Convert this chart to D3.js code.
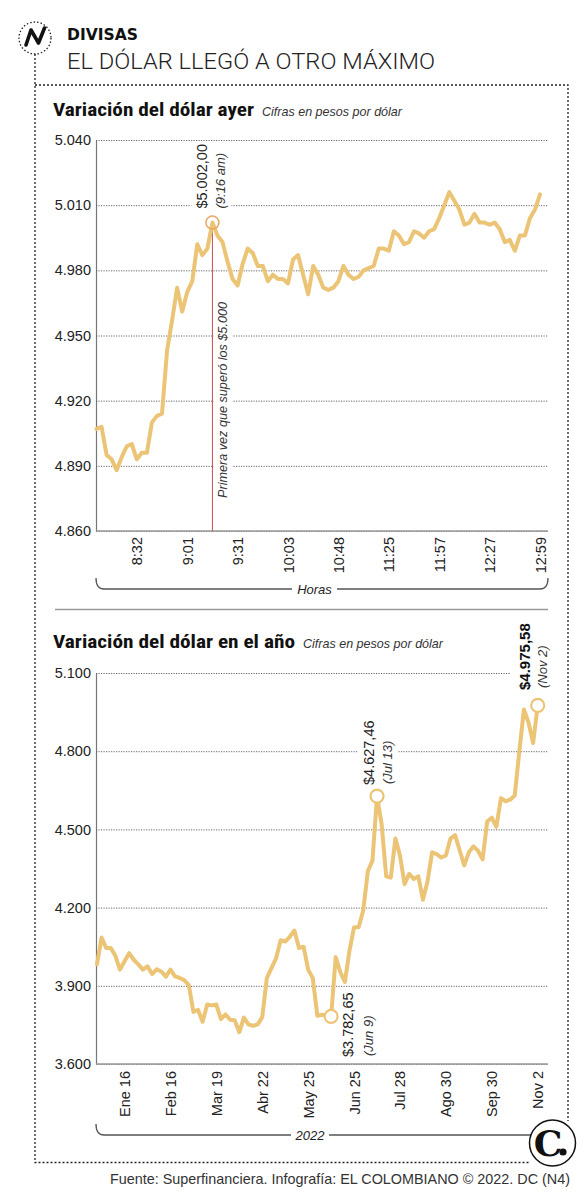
<!DOCTYPE html>
<html><head><meta charset="utf-8">
<script src="https://cdn.jsdelivr.net/npm/d3@7"></script>
<style>
html,body{margin:0;padding:0;background:#fff;}
svg{display:block;font-family:"Liberation Sans",Arial,Helvetica,sans-serif;}
</style></head><body>
<svg id="chart" width="586" height="1200"></svg>
<script>
// ---------- DATA ----------
// Intraday (yesterday) dollar price, pesos per dollar
const hourValues = [
  4907, 4908, 4895, 4893, 4888, 4894, 4899, 4900, 4893, 4896,
  4896, 4910, 4913, 4914, 4943, 4957, 4972, 4961, 4970, 4975,
  4992, 4987, 4990, 5002, 4996, 4993, 4984, 4976, 4973, 4983,
  4990, 4988, 4982, 4982, 4975, 4978, 4976, 4976, 4974, 4985,
  4987, 4978, 4969, 4982, 4978, 4972, 4971, 4972, 4975, 4982,
  4978, 4976, 4977, 4980, 4981, 4982, 4990, 4990, 4989, 4998,
  4996, 4992, 4993, 4998, 4997, 4995, 4998, 4999, 5004, 5010,
  5016, 5012, 5008, 5001, 5002, 5006, 5002, 5002, 5001, 5002,
  4999, 4993, 4994, 4989, 4996, 4996, 5004, 5008, 5015
];
const hourTickIndex  = [8, 18, 28, 38, 48, 58, 68, 78, 88];
const hourTickLabels = ["8:32", "9:01", "9:31", "10:03", "10:48", "11:25", "11:57", "12:27", "12:59"];
const hourYTicks = [4860, 4890, 4920, 4950, 4980, 5010, 5040];
const hourPeakIndex = 23;
const hourPeakValue = 5002;
const hourPeakTime = "(9:16 am)";
const hourNote = "Primera vez que superó los $5.000";

// Year 2022 dollar price, pesos per dollar
const yearValues = [
  3983, 4085, 4045, 4045, 4015, 3962, 3994, 4025, 4000, 3982,
  3962, 3975, 3945, 3963, 3955, 3935, 3962, 3936, 3930, 3922,
  3903, 3800, 3808, 3762, 3828, 3825, 3828, 3772, 3790, 3770,
  3768, 3722, 3778, 3752, 3746, 3752, 3780, 3930, 3968, 4005,
  4075, 4070, 4088, 4112, 4045, 4050, 3962, 3930, 3785, 3789,
  3786, 3782.65, 4010, 3952, 3915, 4035, 4125, 4125, 4190, 4340,
  4380, 4627.46, 4520, 4320, 4315, 4465, 4400, 4290, 4330, 4310,
  4320, 4230, 4300, 4412, 4405, 4392, 4400, 4465, 4478, 4420,
  4362, 4412, 4435, 4418, 4385, 4530, 4545, 4510, 4620, 4608,
  4614, 4630, 4800, 4960, 4910, 4831, 4975.58
];
const yearTickIndex  = [6, 16, 26, 36, 46, 56, 66, 76, 86, 96];
const yearTickLabels = ["Ene 16", "Feb 16", "Mar 19", "Abr 22", "May 25", "Jun 25", "Jul 28", "Ago 30", "Sep 30", "Nov 2"];
const yearYTicks = [3600, 3900, 4200, 4500, 4800, 5100];
const yearMarkerIndex = [51, 61, 96];
const yearMarkerDates = ["(Jun 9)", "(Jul 13)", "(Nov 2)"];

// ---------- SETUP ----------
const svg = d3.select("#chart");
const loc = d3.formatLocale({decimal: ",", thousands: ".", grouping: [3], currency: ["$", ""]});
const fmtTick = loc.format(",");
const fmtMoney = loc.format("$,.2f");

const LINE = "#ebc476";
const CONDB = "'Roboto Condensed','Liberation Sans Narrow','DejaVu Sans Condensed','Liberation Sans',sans-serif";

// ---------- HEADER ----------
const hdr = svg.append("g");
hdr.append("circle").attr("cx", 35).attr("cy", 38).attr("r", 16)
  .attr("fill", "none").attr("stroke", "#222").attr("stroke-width", 1.3).attr("stroke-dasharray", "1.5,2");
hdr.append("path").attr("d", "M26,45 L31,30 L38.5,43 L44.5,28")
  .attr("fill", "none").attr("stroke", "#111").attr("stroke-width", 3.6)
  .attr("stroke-linejoin", "round").attr("stroke-linecap", "round");
hdr.append("text").attr("x", 67).attr("y", 40).text("DIVISAS")
  .attr("font-family", "'DejaVu Sans',sans-serif").attr("font-weight", 700).attr("font-size", 15)
  .attr("textLength", 71).attr("lengthAdjust", "spacingAndGlyphs").attr("fill", "#111");
hdr.append("text").attr("x", 67).attr("y", 69).text("EL DÓLAR LLEGÓ A OTRO MÁXIMO")
  .attr("font-family", "Roboto,'Liberation Sans',sans-serif").attr("font-weight", 300).attr("font-size", 21.5)
  .attr("textLength", 368).attr("lengthAdjust", "spacingAndGlyphs").attr("fill", "#222");

// dotted frame
svg.append("path").attr("d", "M35,54 V1162.5 H530 M35,85 H568 V1121")
  .attr("fill", "none").attr("stroke", "#222").attr("stroke-width", 1.3).attr("stroke-dasharray", "2,2");

// separator
svg.append("line").attr("x1", 55).attr("x2", 548).attr("y1", 609.5).attr("y2", 609.5)
  .attr("stroke", "#9a9a9a").attr("stroke-width", 1.5);

// ---------- HELPERS ----------
function title(y, main, mainLen, sub, subX) {
  svg.append("text").attr("x", 53).attr("y", y).text(main)
    .attr("font-family", CONDB).attr("font-weight", 700).attr("font-size", 19)
    .attr("textLength", mainLen).attr("lengthAdjust", "spacingAndGlyphs").attr("fill", "#111");
  svg.append("text").attr("x", subX).attr("y", y).text(sub)
    .attr("font-style", "italic").attr("font-size", 13.5)
    .attr("textLength", 140).attr("lengthAdjust", "spacingAndGlyphs").attr("fill", "#333");
}

function vtext(g, bx, by, txt, size, opts = {}) {
  const t = g.append("text")
    .attr("transform", `translate(${bx},${by}) rotate(-90)`)
    .attr("text-anchor", opts.anchor || "start")
    .attr("font-size", size).attr("fill", opts.fill || "#222")
    .text(txt);
  if (opts.italic) t.attr("font-style", "italic");
  if (opts.bold) t.attr("font-weight", 700);
  if (opts.len) t.attr("textLength", opts.len).attr("lengthAdjust", "spacingAndGlyphs");
  return t;
}

function backdrop(layer, g, padX, padY) {
  const b = g.node().getBBox();
  layer.append("rect").attr("x", b.x - padX).attr("y", b.y - padY)
    .attr("width", b.width + 2 * padX).attr("height", b.height + 2 * padY).attr("fill", "#fff");
}

function bracket(y, x0, x1, gapA, gapB, label, right) {
  const p = d3.path();
  p.moveTo(x0, y - 11); p.quadraticCurveTo(x0, y, x0 + 8, y); p.lineTo(gapA, y);
  p.moveTo(gapB, y);
  if (right) { p.lineTo(x1 - 8, y); p.quadraticCurveTo(x1, y, x1, y - 11); }
  else p.lineTo(x1, y);
  svg.append("path").attr("d", p.toString()).attr("fill", "none")
    .attr("stroke", "#555").attr("stroke-width", 1.3);
  svg.append("text").attr("x", (gapA + gapB) / 2).attr("y", y + 5).attr("text-anchor", "middle")
    .attr("font-style", "italic").attr("font-size", 13).attr("fill", "#222").text(label);
}

function chart(cfg) {
  const x = d3.scaleLinear().domain([0, cfg.values.length - 1]).range(cfg.xRange);
  const y = d3.scaleLinear().domain(d3.extent(cfg.yTicks)).range([cfg.bottom, cfg.top]);
  const g = svg.append("g");

  const yAxis = d3.axisLeft(y).tickValues(cfg.yTicks).tickFormat(fmtTick)
    .tickSize(-(cfg.gridRight - cfg.left)).tickSizeOuter(0).tickPadding(5);
  const ya = g.append("g").attr("transform", `translate(${cfg.left},0)`).call(yAxis);
  ya.select(".domain").attr("stroke", "#777").attr("stroke-width", 1.2);
  ya.selectAll(".tick line").attr("stroke", "#555").attr("stroke-width", 0.9).attr("stroke-dasharray", "1.2,1.3");
  ya.selectAll(".tick text").attr("font-size", 14.5).attr("fill", "#222")
    .attr("font-family", "'Liberation Sans',Arial,sans-serif");

  const xAxis = d3.axisBottom(x).tickValues(cfg.tickIdx)
    .tickFormat((d, i) => cfg.tickLabels[i]).tickSize(0);
  const xa = g.append("g").attr("transform", `translate(0,${cfg.bottom})`).call(xAxis);
  xa.select(".domain").remove();
  xa.selectAll(".tick text").attr("x", null).attr("y", null).attr("dy", null)
    .attr("transform", `translate(5,${cfg.labelGap}) rotate(-90)`)
    .attr("text-anchor", "end").attr("font-size", 14.5).attr("fill", "#222")
    .attr("font-family", "'Liberation Sans',Arial,sans-serif");

  g.append("line").attr("x1", cfg.left).attr("x2", cfg.gridRight)
    .attr("y1", cfg.bottom).attr("y2", cfg.bottom).attr("stroke", "#999").attr("stroke-width", 1.5);

  const bg = g.append("g");
  const mid = g.append("g");
  const lineG = g.append("g");
  const top = g.append("g");
  return {x, y, g, bg, mid, lineG, top};
}

// ---------- CHART 1: hourly ----------
title(116, "Variación del dólar ayer", 201, "Cifras en pesos por dólar", 262);
const c1 = chart({values: hourValues, xRange: [96.5, 540], yTicks: hourYTicks,
  top: 140, bottom: 531, left: 96, gridRight: 548, tickIdx: hourTickIndex,
  tickLabels: hourTickLabels, labelGap: 6});

const px = c1.x(hourPeakIndex), py = c1.y(hourPeakValue);
// annotation text
const a1 = c1.top.append("g");
vtext(a1, px - 5, py - 14, fmtMoney(hourPeakValue), 14.5);
vtext(a1, px + 13, py - 14, hourPeakTime, 13, {italic: true, fill: "#333"});
backdrop(c1.bg, a1, 3, 3);
const a2 = c1.top.append("g");
vtext(a2, px + 15, 498, hourNote, 13, {italic: true, fill: "#333", len: 196});
backdrop(c1.bg, a2, 2, 3);

c1.mid.append("line").attr("x1", px).attr("x2", px).attr("y1", py + 6.5).attr("y2", 531)
  .attr("stroke", "#c0504d").attr("stroke-width", 1);

c1.lineG.append("path").datum(hourValues)
  .attr("d", d3.line().x((d, i) => c1.x(i)).y(d => c1.y(d)))
  .attr("fill", "none").attr("stroke", LINE).attr("stroke-width", 4)
  .attr("stroke-linejoin", "round").attr("stroke-linecap", "round");
c1.lineG.append("circle").attr("cx", px).attr("cy", py).attr("r", 6.5)
  .attr("fill", "none").attr("stroke", "#e9a765").attr("stroke-width", 1.6);

bracket(589, 96, 548, 292, 337, "Horas", true);

// ---------- CHART 2: year ----------
title(648, "Variación del dólar en el año", 242, "Cifras en pesos por dólar", 303);
const c2 = chart({values: yearValues, xRange: [97, 537.7], yTicks: yearYTicks,
  top: 673, bottom: 1064, left: 96, gridRight: 548, tickIdx: yearTickIndex,
  tickLabels: yearTickLabels, labelGap: 7});

// label offsets relative to marker: [value dx, value dy(bottom), date dx, bold]
const markerLayout = [
  {vdx: 21.5, vby: 1057, ddx: 41.5, dby: 1056, bold: false},
  {vdx: -3,   vby: 785,  ddx: 15,   dby: 784,  bold: false},
  {vdx: -7.5, vby: 690,  ddx: 9.5,  dby: 688,  bold: true}
];
yearMarkerIndex.forEach((idx, k) => {
  const mx = c2.x(idx), my = c2.y(yearValues[idx]);
  const L = markerLayout[k];
  const ag = c2.top.append("g");
  vtext(ag, mx + L.vdx, L.vby, fmtMoney(yearValues[idx]), L.bold ? 15 : 14.5,
        {bold: L.bold, fill: L.bold ? "#111" : "#222"});
  vtext(ag, mx + L.ddx, L.dby, yearMarkerDates[k], 13, {italic: true, fill: "#333"});
  backdrop(c2.bg, ag, k === 2 ? 6 : 3, 3);
});

c2.lineG.append("path").datum(yearValues)
  .attr("d", d3.line().x((d, i) => c2.x(i)).y(d => c2.y(d)))
  .attr("fill", "none").attr("stroke", LINE).attr("stroke-width", 4)
  .attr("stroke-linejoin", "round").attr("stroke-linecap", "round");
c2.lineG.selectAll("circle.m").data(yearMarkerIndex).join("circle").attr("class", "m")
  .attr("cx", d => c2.x(d)).attr("cy", d => c2.y(yearValues[d])).attr("r", 6.5)
  .attr("fill", "#fff").attr("stroke", LINE).attr("stroke-width", 2.2);

bracket(1135, 96, 531, 291, 329, "2022", false);

// ---------- LOGO + FOOTER ----------
svg.append("circle").attr("cx", 552.5).attr("cy", 1143).attr("r", 23)
  .attr("fill", "#fff").attr("stroke", "#111").attr("stroke-width", 1.5);
svg.append("text").attr("x", 548).attr("y", 1156).attr("text-anchor", "middle")
  .attr("font-family", "'DejaVu Serif','Liberation Serif',serif").attr("font-weight", 900)
  .attr("font-size", 36).attr("fill", "#111").text("C");
svg.append("circle").attr("cx", 563).attr("cy", 1152).attr("r", 3.6).attr("fill", "#111");

svg.append("text").attr("x", 110).attr("y", 1184)
  .attr("font-size", 14.5).attr("fill", "#333")
  .attr("textLength", 460).attr("lengthAdjust", "spacingAndGlyphs")
  .text("Fuente: Superfinanciera. Infografía: EL COLOMBIANO © 2022. DC (N4)");
</script>
</body></html>
